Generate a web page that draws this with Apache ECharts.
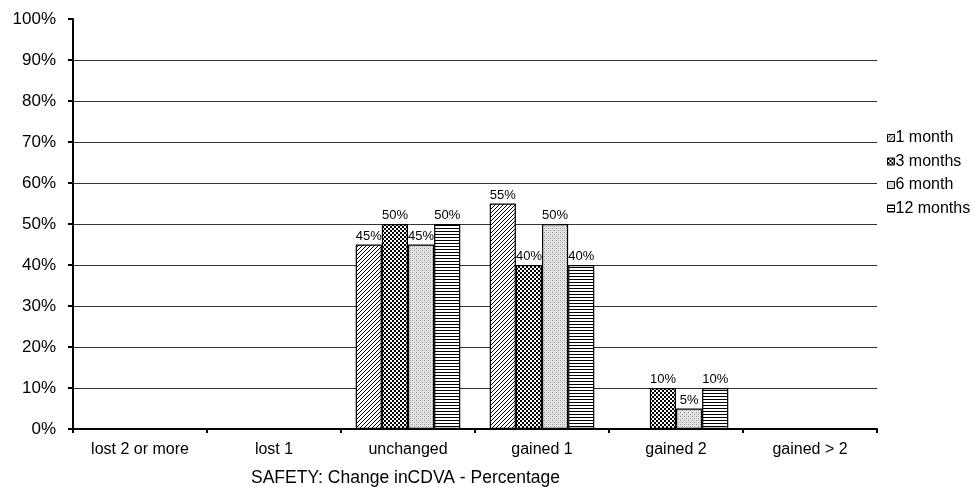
<!DOCTYPE html>
<html>
<head>
<meta charset="utf-8">
<script src="https://cdn.jsdelivr.net/npm/echarts@6/dist/echarts.min.js"></script>
<style>
html,body{margin:0;padding:0;background:#fff;}
#chart{width:980px;height:487px;}
</style>
</head>
<body>
<div id="chart"></div>
<script>
// Change in CDVA per visit, as percentage of eyes
var categories = ['lost 2 or more', 'lost 1', 'unchanged', 'gained 1', 'gained 2', 'gained > 2'];
var seriesNames = ['1 month', '3 months', '6 month', '12 months'];
var month1 = [0, 0, 45, 55, 0, 0];
var months3 = [0, 0, 50, 40, 10, 0];
var month6 = [0, 0, 45, 50, 5, 0];
var months12 = [0, 0, 50, 40, 10, 0];
var yTicks = [0, 10, 20, 30, 40, 50, 60, 70, 80, 90, 100];

// Monochrome fill patterns drawn on small canvases
function makeTile(size, draw) {
  var c = document.createElement('canvas');
  c.width = size; c.height = size;
  var ctx = c.getContext('2d');
  ctx.fillStyle = '#fff';
  ctx.fillRect(0, 0, size, size);
  draw(ctx, size);
  return { image: c, repeat: 'repeat' };
}
var diagonal = makeTile(4, function (ctx, s) {
  ctx.fillStyle = '#000';
  for (var i = 0; i < s; i++) {
    ctx.fillRect(s - 1 - i, i, 1, 1);
  }
});
var checker = makeTile(4, function (ctx, s) {
  ctx.fillStyle = '#000';
  ctx.fillRect(0, 0, 2, 2);
  ctx.fillRect(2, 2, 2, 2);
});
var stipple = makeTile(4, function (ctx, s) {
  ctx.fillStyle = '#e4e4e4';
  ctx.fillRect(0, 0, s, s);
  ctx.fillStyle = '#9a9a9a';
  ctx.fillRect(0, 0, 1, 1);
  ctx.fillRect(2, 2, 1, 1);
  ctx.fillStyle = '#c4c4c4';
  ctx.fillRect(2, 0, 1, 1);
  ctx.fillRect(0, 2, 1, 1);
});
var hlines = makeTile(3, function (ctx, s) {
  ctx.fillStyle = '#000';
  ctx.fillRect(0, 0, s, 1);
});
var fills = [diagonal, checker, stipple, hlines];
var values = [month1, months3, month6, months12];

var font = 'Liberation Sans, Arial, sans-serif';

var series = seriesNames.map(function (name, i) {
  return {
    name: name,
    type: 'bar',
    data: values[i],
    barGap: '0%',
    barCategoryGap: '22%',
    itemStyle: { color: fills[i], borderColor: '#000', borderWidth: 1.2 },
    label: {
      show: true,
      position: 'top',
      distance: 2,
      color: '#000',
      fontFamily: font,
      fontSize: 13,
      formatter: function (p) { return p.value ? p.value + '%' : ''; }
    },
    emphasis: { disabled: true },
    animation: false
  };
});

// gridlines at every tick except the top one
var gridColors = yTicks.map(function (v, i) {
  return i === yTicks.length - 1 ? 'rgba(0,0,0,0)' : '#333';
});

var chart = echarts.init(document.getElementById('chart'));
chart.setOption({
  backgroundColor: '#fff',
  animation: false,
  grid: { left: 73, right: 103, top: 19, bottom: 58 },
  title: {
    text: 'SAFETY: Change inCDVA - Percentage',
    left: 251,
    top: 469,
    padding: 0,
    textStyle: { fontFamily: font, fontSize: 17.5, fontWeight: 'normal', color: '#000' }
  },
  legend: {
    orient: 'vertical',
    left: 887,
    top: 130,
    padding: 0,
    itemWidth: 7,
    itemHeight: 7,
    itemGap: 7.5,
    icon: 'rect',
    itemStyle: { borderColor: '#000', borderWidth: 1 },
    textStyle: { fontFamily: font, fontSize: 16, color: '#000', padding: [0, 0, 0, -4] },
    data: seriesNames
  },
  xAxis: {
    type: 'category',
    data: categories,
    axisLine: { lineStyle: { color: '#000', width: 2 } },
    axisTick: { show: true, length: 4, lineStyle: { color: '#000', width: 2 } },
    axisLabel: { fontFamily: font, fontSize: 16, color: '#000', margin: 13 }
  },
  yAxis: {
    type: 'value',
    min: yTicks[0],
    max: yTicks[yTicks.length - 1],
    interval: 10,
    axisLine: { show: true, lineStyle: { color: '#000', width: 2 } },
    axisTick: { show: true, length: 5, lineStyle: { color: '#000', width: 2 } },
    axisLabel: { fontFamily: font, fontSize: 17, color: '#000', margin: 17, formatter: '{value}%' },
    splitLine: { show: true, lineStyle: { color: gridColors, width: 1 } }
  },
  series: series
});
</script>
</body>
</html>
